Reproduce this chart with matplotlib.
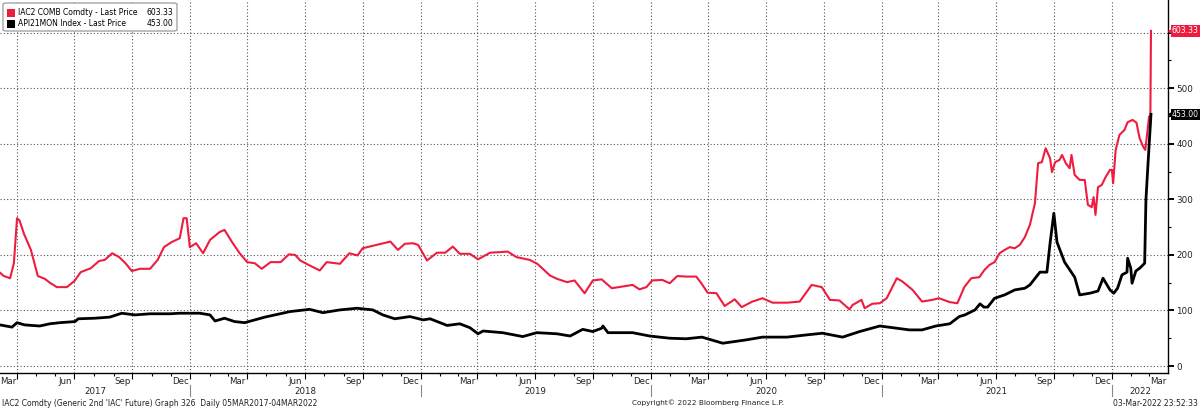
import matplotlib
matplotlib.use('Agg')
import matplotlib.pyplot as plt
import matplotlib.dates as mdates
import matplotlib.transforms as mtransforms
from matplotlib.patches import Rectangle, FancyBboxPatch
import pandas as pd

# ---------------- data ----------------
iac_dates = [
    '2017-03-05', '2017-03-11', '2017-03-21', '2017-03-27', '2017-04-01', '2017-04-05', '2017-04-12', '2017-04-23',
    '2017-05-04', '2017-05-15', '2017-05-23', '2017-06-03', '2017-06-19', '2017-07-01', '2017-07-11', '2017-07-27',
    '2017-08-09', '2017-08-18', '2017-08-30', '2017-09-10', '2017-09-20', '2017-09-30', '2017-10-13', '2017-10-29',
    '2017-11-10', '2017-11-20', '2017-12-02', '2017-12-15', '2017-12-21', '2017-12-26', '2017-12-31', '2018-01-10',
    '2018-01-21', '2018-02-01', '2018-02-16', '2018-02-24', '2018-03-08', '2018-03-20', '2018-04-01', '2018-04-13',
    '2018-04-24', '2018-05-08', '2018-05-24', '2018-06-06', '2018-06-16', '2018-06-24', '2018-07-09', '2018-07-25',
    '2018-08-05', '2018-08-26', '2018-09-10', '2018-09-23', '2018-10-01', '2018-10-23', '2018-11-14', '2018-11-26',
    '2018-12-07', '2018-12-20', '2018-12-28', '2019-01-11', '2019-01-27', '2019-02-09', '2019-02-21', '2019-03-04',
    '2019-03-20', '2019-04-02', '2019-04-21', '2019-05-07', '2019-05-19', '2019-06-02', '2019-06-23', '2019-07-05',
    '2019-07-25', '2019-08-05', '2019-08-21', '2019-09-02', '2019-09-18', '2019-10-01', '2019-10-15', '2019-10-31',
    '2019-11-17', '2019-12-03', '2019-12-14', '2019-12-25', '2020-01-03', '2020-01-19', '2020-01-31', '2020-02-12',
    '2020-02-26', '2020-03-13', '2020-03-21', '2020-03-31', '2020-04-14', '2020-04-27', '2020-05-13', '2020-05-24',
    '2020-06-10', '2020-06-26', '2020-07-12', '2020-08-04', '2020-08-24', '2020-09-12', '2020-09-28', '2020-10-11',
    '2020-10-26', '2020-11-11', '2020-11-16', '2020-11-30', '2020-12-05', '2020-12-17', '2020-12-29', '2021-01-09',
    '2021-01-25', '2021-02-03', '2021-02-19', '2021-03-06', '2021-03-22', '2021-04-02', '2021-04-19', '2021-05-01',
    '2021-05-12', '2021-05-23', '2021-06-05', '2021-06-13', '2021-06-21', '2021-06-29', '2021-07-07', '2021-07-15',
    '2021-07-23', '2021-07-31', '2021-08-08', '2021-08-16', '2021-08-24', '2021-09-01', '2021-09-06', '2021-09-12',
    '2021-09-18', '2021-09-25', '2021-09-28', '2021-10-03', '2021-10-10', '2021-10-14', '2021-10-20', '2021-10-26',
    '2021-10-29', '2021-11-03', '2021-11-11', '2021-11-19', '2021-11-24', '2021-11-30', '2021-12-03', '2021-12-06',
    '2021-12-10', '2021-12-16', '2021-12-22', '2021-12-29', '2022-01-01', '2022-01-03', '2022-01-07', '2022-01-13',
    '2022-01-21', '2022-01-26', '2022-02-03', '2022-02-09', '2022-02-14', '2022-02-20', '2022-02-23', '2022-02-27',
    '2022-03-01', '2022-03-03', '2022-03-04',
]
iac_values = [
    168, 162, 158, 185, 266, 262, 238, 209,
    162, 157, 150, 142, 142, 153, 169, 176,
    189, 191, 203, 196, 185, 171, 175, 175,
    191, 214, 223, 230, 266, 266, 214, 221,
    203, 227, 241, 245, 223, 203, 187, 185,
    175, 187, 187, 201, 200, 190, 181, 172,
    187, 184, 203, 199, 212, 218, 224, 209,
    220, 221, 218, 190, 204, 204, 215, 202,
    202, 192, 204, 205, 206, 196, 191, 184,
    163, 157, 151, 154, 131, 154, 156, 140,
    143, 146, 138, 142, 154, 155, 149, 162,
    161, 161, 149, 132, 131, 108, 120, 106,
    116, 122, 114, 114, 116, 146, 142, 119,
    118, 102, 110, 119, 104, 112, 113, 122,
    158, 152, 137, 116, 119, 122, 115, 113,
    142, 158, 160, 173, 182, 187, 203, 209,
    214, 212, 218, 232, 254, 293, 365, 367,
    392, 374, 349, 367, 371, 380, 365, 356,
    380, 344, 335, 335, 290, 286, 304, 272,
    322, 326, 340, 353, 353, 329, 389, 416,
    425, 439, 443, 438, 410, 394, 389, 430,
    449, 440, 603.33,
]

api_dates = [
    '2017-03-05', '2017-03-24', '2017-04-01', '2017-04-13', '2017-05-07', '2017-05-23', '2017-06-08', '2017-07-02',
    '2017-07-07', '2017-08-02', '2017-08-26', '2017-09-14', '2017-10-05', '2017-10-29', '2017-11-29', '2017-12-15',
    '2017-12-31', '2018-01-16', '2018-02-01', '2018-02-09', '2018-02-24', '2018-03-12', '2018-03-28', '2018-04-13',
    '2018-04-29', '2018-05-15', '2018-06-08', '2018-07-09', '2018-07-30', '2018-08-26', '2018-09-22', '2018-10-17',
    '2018-11-02', '2018-11-21', '2018-12-15', '2019-01-05', '2019-01-16', '2019-02-12', '2019-03-04', '2019-03-20',
    '2019-04-02', '2019-04-10', '2019-05-11', '2019-06-12', '2019-07-04', '2019-08-05', '2019-08-26', '2019-09-15',
    '2019-10-01', '2019-10-15', '2019-10-17', '2019-10-25', '2019-11-17', '2019-12-03', '2019-12-30', '2020-01-31',
    '2020-02-26', '2020-03-22', '2020-04-24', '2020-05-31', '2020-06-26', '2020-08-04', '2020-09-04', '2020-09-29',
    '2020-10-31', '2020-11-27', '2020-12-29', '2021-01-25', '2021-02-14', '2021-03-06', '2021-03-28', '2021-04-19',
    '2021-05-04', '2021-05-13', '2021-05-29', '2021-06-06', '2021-06-12', '2021-06-18', '2021-06-29', '2021-07-15',
    '2021-07-31', '2021-08-16', '2021-08-24', '2021-09-09', '2021-09-20', '2021-09-25', '2021-10-01', '2021-10-06',
    '2021-10-18', '2021-11-03', '2021-11-11', '2021-11-27', '2021-12-10', '2021-12-18', '2021-12-29', '2022-01-04',
    '2022-01-10', '2022-01-17', '2022-01-25', '2022-01-26', '2022-01-31', '2022-02-02', '2022-02-08', '2022-02-14',
    '2022-02-22', '2022-02-24', '2022-02-27', '2022-03-04',
]
api_values = [
    74, 70, 78, 74, 72, 76, 78, 80,
    85, 86, 88, 95, 92, 94, 94, 95,
    95, 95, 92, 81, 86, 80, 78, 83,
    88, 92, 98, 102, 96, 101, 104, 101,
    92, 85, 89, 83, 85, 73, 76, 69,
    58, 63, 60, 53, 60, 58, 54, 66,
    62, 68, 72, 60, 60, 60, 54, 50,
    49, 52, 41, 47, 52, 52, 56, 59,
    52, 62, 72, 68, 65, 65, 72, 76,
    89, 92, 101, 112, 106, 106, 122, 128,
    137, 140, 146, 169, 169, 221, 275, 223,
    187, 160, 128, 131, 135, 158, 137, 131,
    140, 164, 169, 194, 176, 149, 171, 176,
    185, 299, 358, 453.00,
]

iac_label = 'IAC2 COMB Comdty - Last Price'
api_label = 'API21MON Index - Last Price'
iac_last = 603.33
api_last = 453.00

y_ticks = [0, 100, 200, 300, 400, 500, 600]
y_tick_labels = ['0', '100', '200', '300', '400', '500', '']
month_labels = {3: 'Mar', 6: 'Jun', 9: 'Sep', 12: 'Dec'}
years = [2017, 2018, 2019, 2020, 2021, 2022]
x_start, x_end = '2017-03-05', '2022-03-31'

footer_left = "IAC2 Comdty (Generic 2nd 'IAC' Future) Graph 326  Daily 05MAR2017-04MAR2022"
footer_mid = 'Copyright\u00a9 2022 Bloomberg Finance L.P.'
footer_right = '03-Mar-2022 23:52:33'

RED = '#ee1c3f'
BLACK = '#000000'
GRID = '#555555'
TXT = '#222222'

# ---------------- figure ----------------
W, H = 1200, 409
fig = plt.figure(figsize=(W / 100, H / 100), dpi=100)
fig.patch.set_facecolor('white')
ax_bottom_px = 373
ax = fig.add_axes([0, 1 - ax_bottom_px / H, 1168 / W, ax_bottom_px / H])

x0, x1 = pd.Timestamp(x_start), pd.Timestamp(x_end)
ax.plot(pd.to_datetime(iac_dates), iac_values, color=RED, lw=1.5, zorder=3,
        solid_joinstyle='round')
ax.plot(pd.to_datetime(api_dates), api_values, color=BLACK, lw=2.0, zorder=4,
        solid_joinstyle='round')

ax.set_xlim(x0, x1)
ax.set_ylim(-12.6, 658.9)

for s in ['left', 'top']:
    ax.spines[s].set_visible(False)
for s in ['right', 'bottom']:
    ax.spines[s].set_color('black')
    ax.spines[s].set_linewidth(1.0)

# y axis on right
ax.yaxis.tick_right()
ax.set_yticks(y_ticks)
ax.set_yticklabels(y_tick_labels)
ax.set_yticks(range(50, 650, 100), minor=True)
ax.tick_params(axis='y', which='major', direction='out', length=4, width=1.4,
               labelsize=6.3, pad=2, colors='black', labelcolor=TXT)
ax.tick_params(axis='y', which='minor', direction='out', length=2.5, width=0.8)
ax.yaxis.grid(True, which='major', linestyle=(0, (1, 2)), color=GRID, lw=0.8)

# x axis: gridlines at quarter boundaries, minor ticks monthly
ax.xaxis.set_major_locator(mdates.MonthLocator(bymonth=[1, 4, 7, 10]))
ax.xaxis.set_minor_locator(mdates.MonthLocator())
ax.xaxis.set_major_formatter(plt.NullFormatter())
ax.tick_params(axis='x', which='major', direction='out', length=4, width=0.8)
ax.tick_params(axis='x', which='minor', direction='out', length=2.5, width=0.8)
ax.xaxis.grid(True, which='major', linestyle=(0, (1, 2)), color=GRID, lw=0.8)

# month and year labels below axis
bt = mtransforms.blended_transform_factory(ax.transData, fig.transFigure)


def fy(py):
    return 1 - py / H


for yr in years:
    for m, name in month_labels.items():
        ms = pd.Timestamp(year=yr, month=m, day=1)
        me = ms + pd.offsets.MonthBegin(1)
        a, b = max(ms, x0), min(me, x1)
        if a >= b:
            continue
        mid = a + (b - a) / 2
        ax.text(mid, fy(382), name, transform=bt, ha='center', va='center',
                fontsize=6.2, color=TXT, clip_on=False)
    ys, ye = pd.Timestamp(year=yr, month=1, day=1), pd.Timestamp(year=yr + 1, month=1, day=1)
    a, b = max(ys, x0), min(ye, x1)
    mid = a + (b - a) / 2
    ax.text(mid, fy(392), str(yr), transform=bt, ha='center', va='center',
            fontsize=6.2, color=TXT, clip_on=False)
    if ys > x0:
        ax.plot([ys, ys], [fy(385), fy(396)], transform=bt, color='#888888',
                lw=0.8, clip_on=False)

# footer
fig.text(2 / W, fy(403), footer_left, ha='left', va='center', fontsize=5.5, color=TXT)
fig.text(708 / W, fy(403), footer_mid, ha='center', va='center', fontsize=5.3, color=TXT)
fig.text(1198 / W, fy(403), footer_right, ha='right', va='center', fontsize=5.5, color=TXT)

# legend box
lg = FancyBboxPatch((3 / W, fy(31)), 174 / W, 28 / H,
                    boxstyle='round,pad=0,rounding_size=0.003',
                    transform=fig.transFigure, fc='white', ec='#9a9a9a', lw=0.9, zorder=10)
fig.patches.append(lg)
for i, (col, lab, val) in enumerate([(RED, iac_label, iac_last), (BLACK, api_label, api_last)]):
    cy = 12.5 + i * 11
    fig.patches.append(Rectangle((7 / W, fy(cy + 4)), 8 / W, 8 / H, transform=fig.transFigure,
                                 fc=col, ec='none', zorder=11))
    fig.text(18 / W, fy(cy), lab, ha='left', va='center', fontsize=5.5, color='black', zorder=12)
    fig.text(173 / W, fy(cy), f'{val:.2f}', ha='right', va='center', fontsize=5.5,
             color='black', zorder=12)

# last value tags on the right
tb = mtransforms.blended_transform_factory(ax.transAxes, ax.transData)
for val, col in [(iac_last, RED), (api_last, BLACK)]:
    ax.text(1.0, val, f'{val:.2f}',
            transform=tb + mtransforms.ScaledTranslation(4 / 100, 0, fig.dpi_scale_trans),
            ha='left', va='center', fontsize=5.6, color='white', clip_on=False, zorder=20,
            bbox=dict(boxstyle='square,pad=0.15', fc=col, ec='none'))
    ax.plot([1.0], [val], marker='<', markersize=4.5, color=col, clip_on=False, zorder=19,
            transform=tb + mtransforms.ScaledTranslation(3 / 100, 0, fig.dpi_scale_trans))

fig.savefig('out.png', dpi=100, facecolor='white')
